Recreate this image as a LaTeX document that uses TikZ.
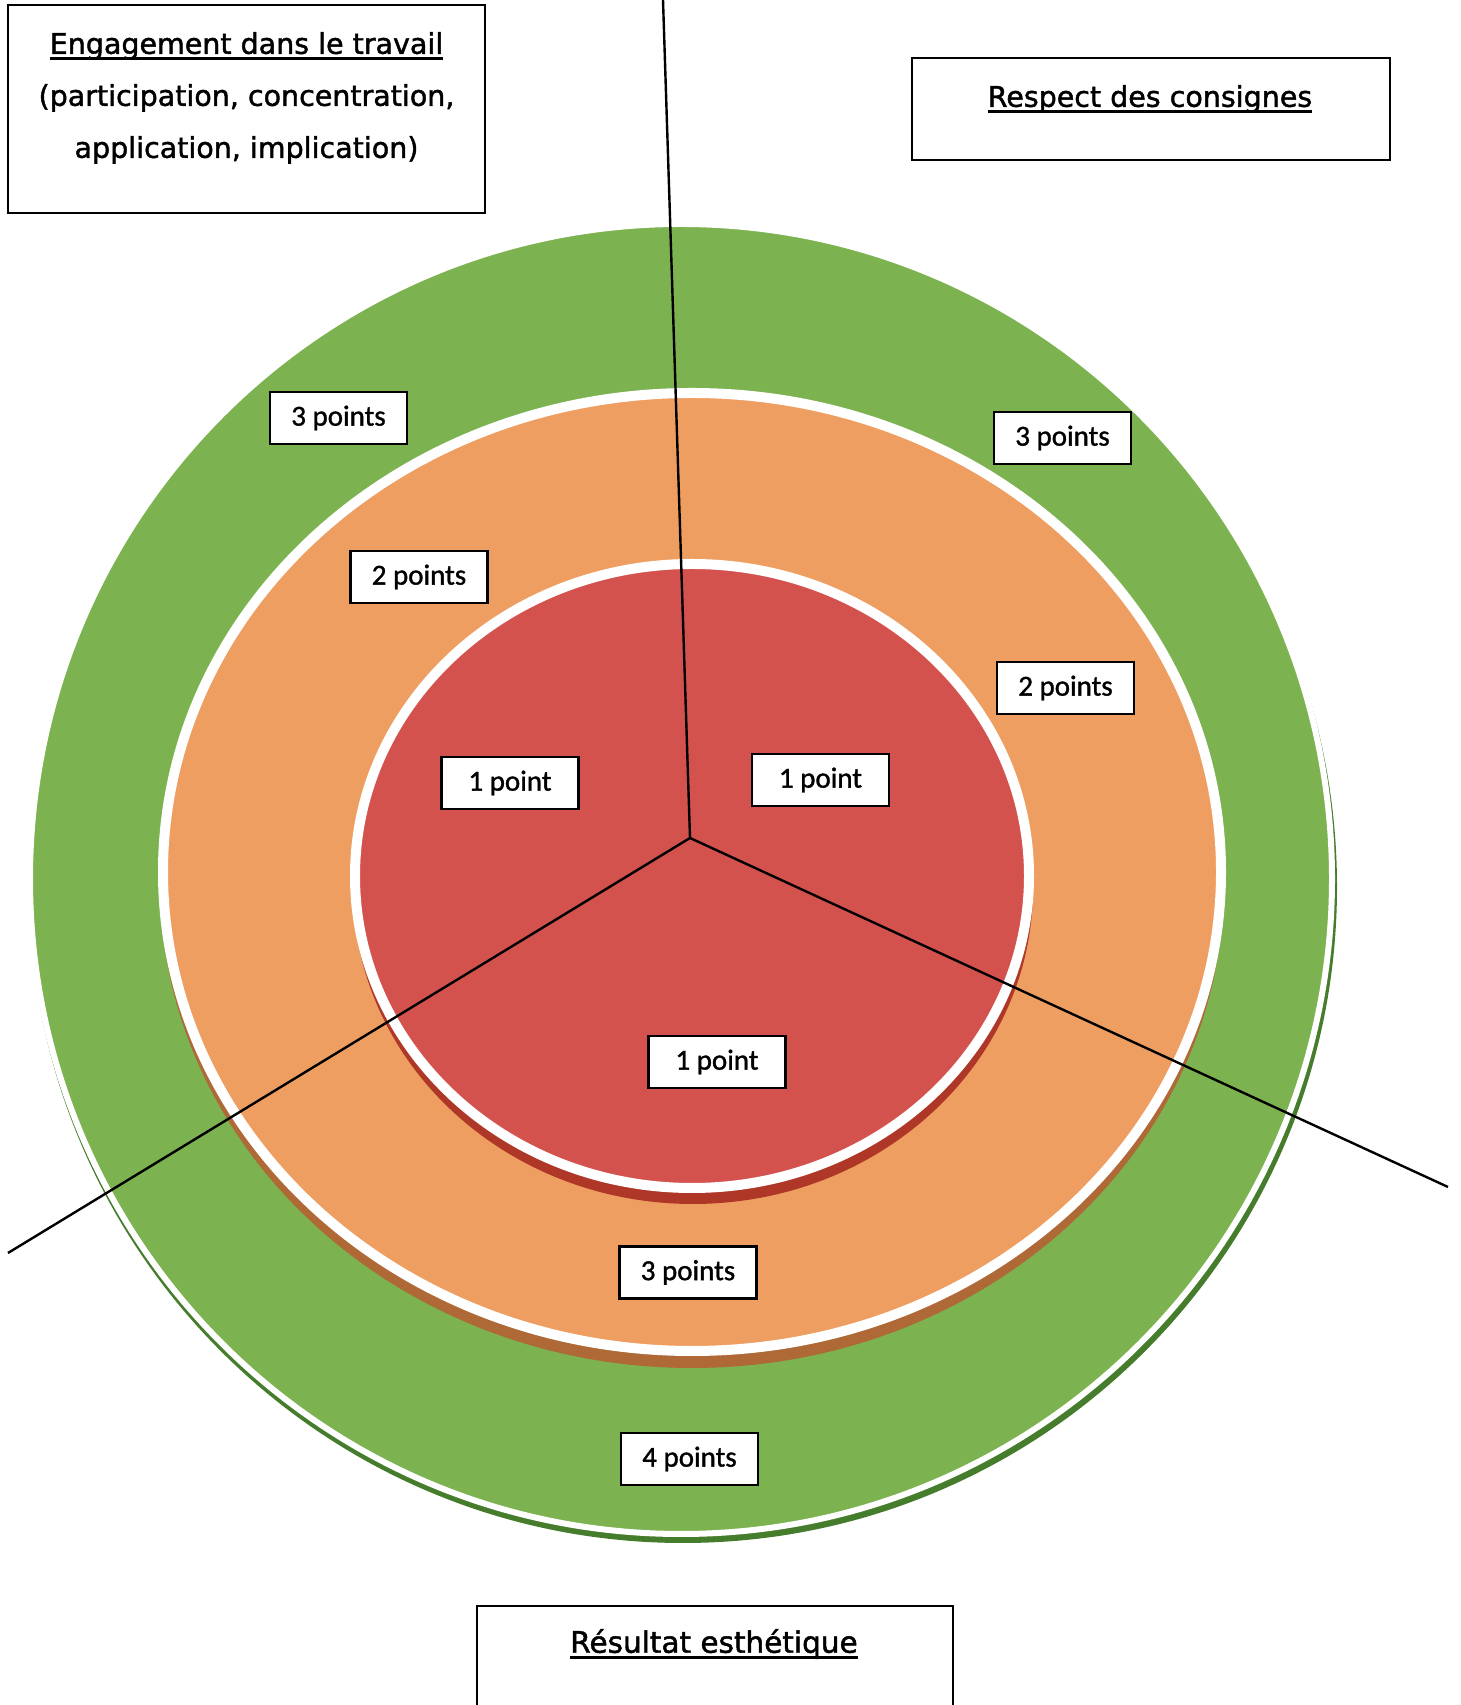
\documentclass[tikz,border=0pt]{standalone}
\usepackage{fontspec}
\setmainfont{Carlito}
\newfontfamily\titlefont[FakeBold=1.5]{DejaVu Sans}
\newfontfamily\lblfont[FakeBold=1.2]{Carlito}
\newcommand\myul[1]{\setbox0\hbox{#1}\rlap{\rule[-6pt]{\wd0}{2.4pt}}\box0}
\definecolor{ringgreen}{RGB}{124,178,80}
\definecolor{ringorange}{RGB}{239,158,98}
\definecolor{ringred}{RGB}{212,82,77}
\definecolor{shgreen}{RGB}{70,125,45}
\definecolor{shorange}{RGB}{175,105,55}
\definecolor{shred}{RGB}{175,55,40}
\begin{document}
\begin{tikzpicture}[x=1pt,y=1pt,
  lbl/.style={draw=black, line width=2.5pt, fill=white, minimum height=52pt, minimum width=137pt,
              inner sep=0pt, font=\lblfont\fontsize{29}{34}\selectfont},
  tbox/.style={draw=black, line width=2.2pt, fill=white, inner sep=0pt},
  ttext/.style={font=\titlefont\fontsize{28.5}{52}\selectfont, align=center, inner sep=0pt},
  ray/.style={line width=2.4pt, black},
  ring/.style={draw=white, line width=#1},
  ring/.default=10pt]
\useasboundingbox (0,0) rectangle (1461,1705);
\fill[white] (0,0) rectangle (1461,1705);
% outer green ring
\fill[shgreen] (683,818) ellipse [x radius=654, y radius=656];
\filldraw[ring=6pt, fill=ringgreen] (681,826) ellipse [x radius=651, y radius=655];
% orange ring
\fill[shorange] (692,822) ellipse [x radius=532, y radius=485];
\filldraw[ring, fill=ringorange] (692,833) ellipse [x radius=529, y radius=479];
% red centre
\fill[shred] (693,817) ellipse [x radius=340, y radius=316];
\filldraw[ring, fill=ringred] (692,829) ellipse [x radius=337, y radius=312];
% rays
\coordinate (v) at (690,867);
\coordinate (topend) at (663,1705);
\coordinate (rightend) at (1448,518);
\coordinate (leftend) at (8,452);
\draw[ray] (v) -- (topend);
\draw[ray] (v) -- (rightend);
\draw[ray] (v) -- (leftend);
% score labels
\node[lbl] (g3l) at (338.5,1287) {3 points};
\node[lbl] (g3r) at (1062.5,1267) {3 points};
\node[lbl] (o2l) at (419,1128) {2 points};
\node[lbl] (o2r) at (1065.5,1017) {2 points};
\node[lbl] (r1l) at (510,922) {1 point};
\node[lbl] (r1r) at (820.5,925) {1 point};
\node[lbl] (r1b) at (717,643) {1 point};
\node[lbl] (o3b) at (688,432.5) {3 points};
\node[lbl] (g4b) at (689.5,246) {4 points};
% title boxes
\node[tbox, minimum width=477pt, minimum height=208pt] (engbox) at (246.5,1596) {};
\node[ttext] (engtxt) at (246.5,1607) {\myul{Engagement dans le travail}\\(participation, concentration,\\application, implication)};
\node[tbox, minimum width=478pt, minimum height=102pt] (resbox) at (1151,1596) {};
\node[ttext] (restxt) at (1150,1606) {\myul{Respect des consignes}};
\node[tbox, minimum width=476pt, minimum height=130pt] (estbox) at (715,34) {};
\node[ttext, font=\titlefont\fontsize{29.5}{52}\selectfont] (esttxt) at (714,61) {\myul{Résultat esthétique}};
\end{tikzpicture}
\end{document}
